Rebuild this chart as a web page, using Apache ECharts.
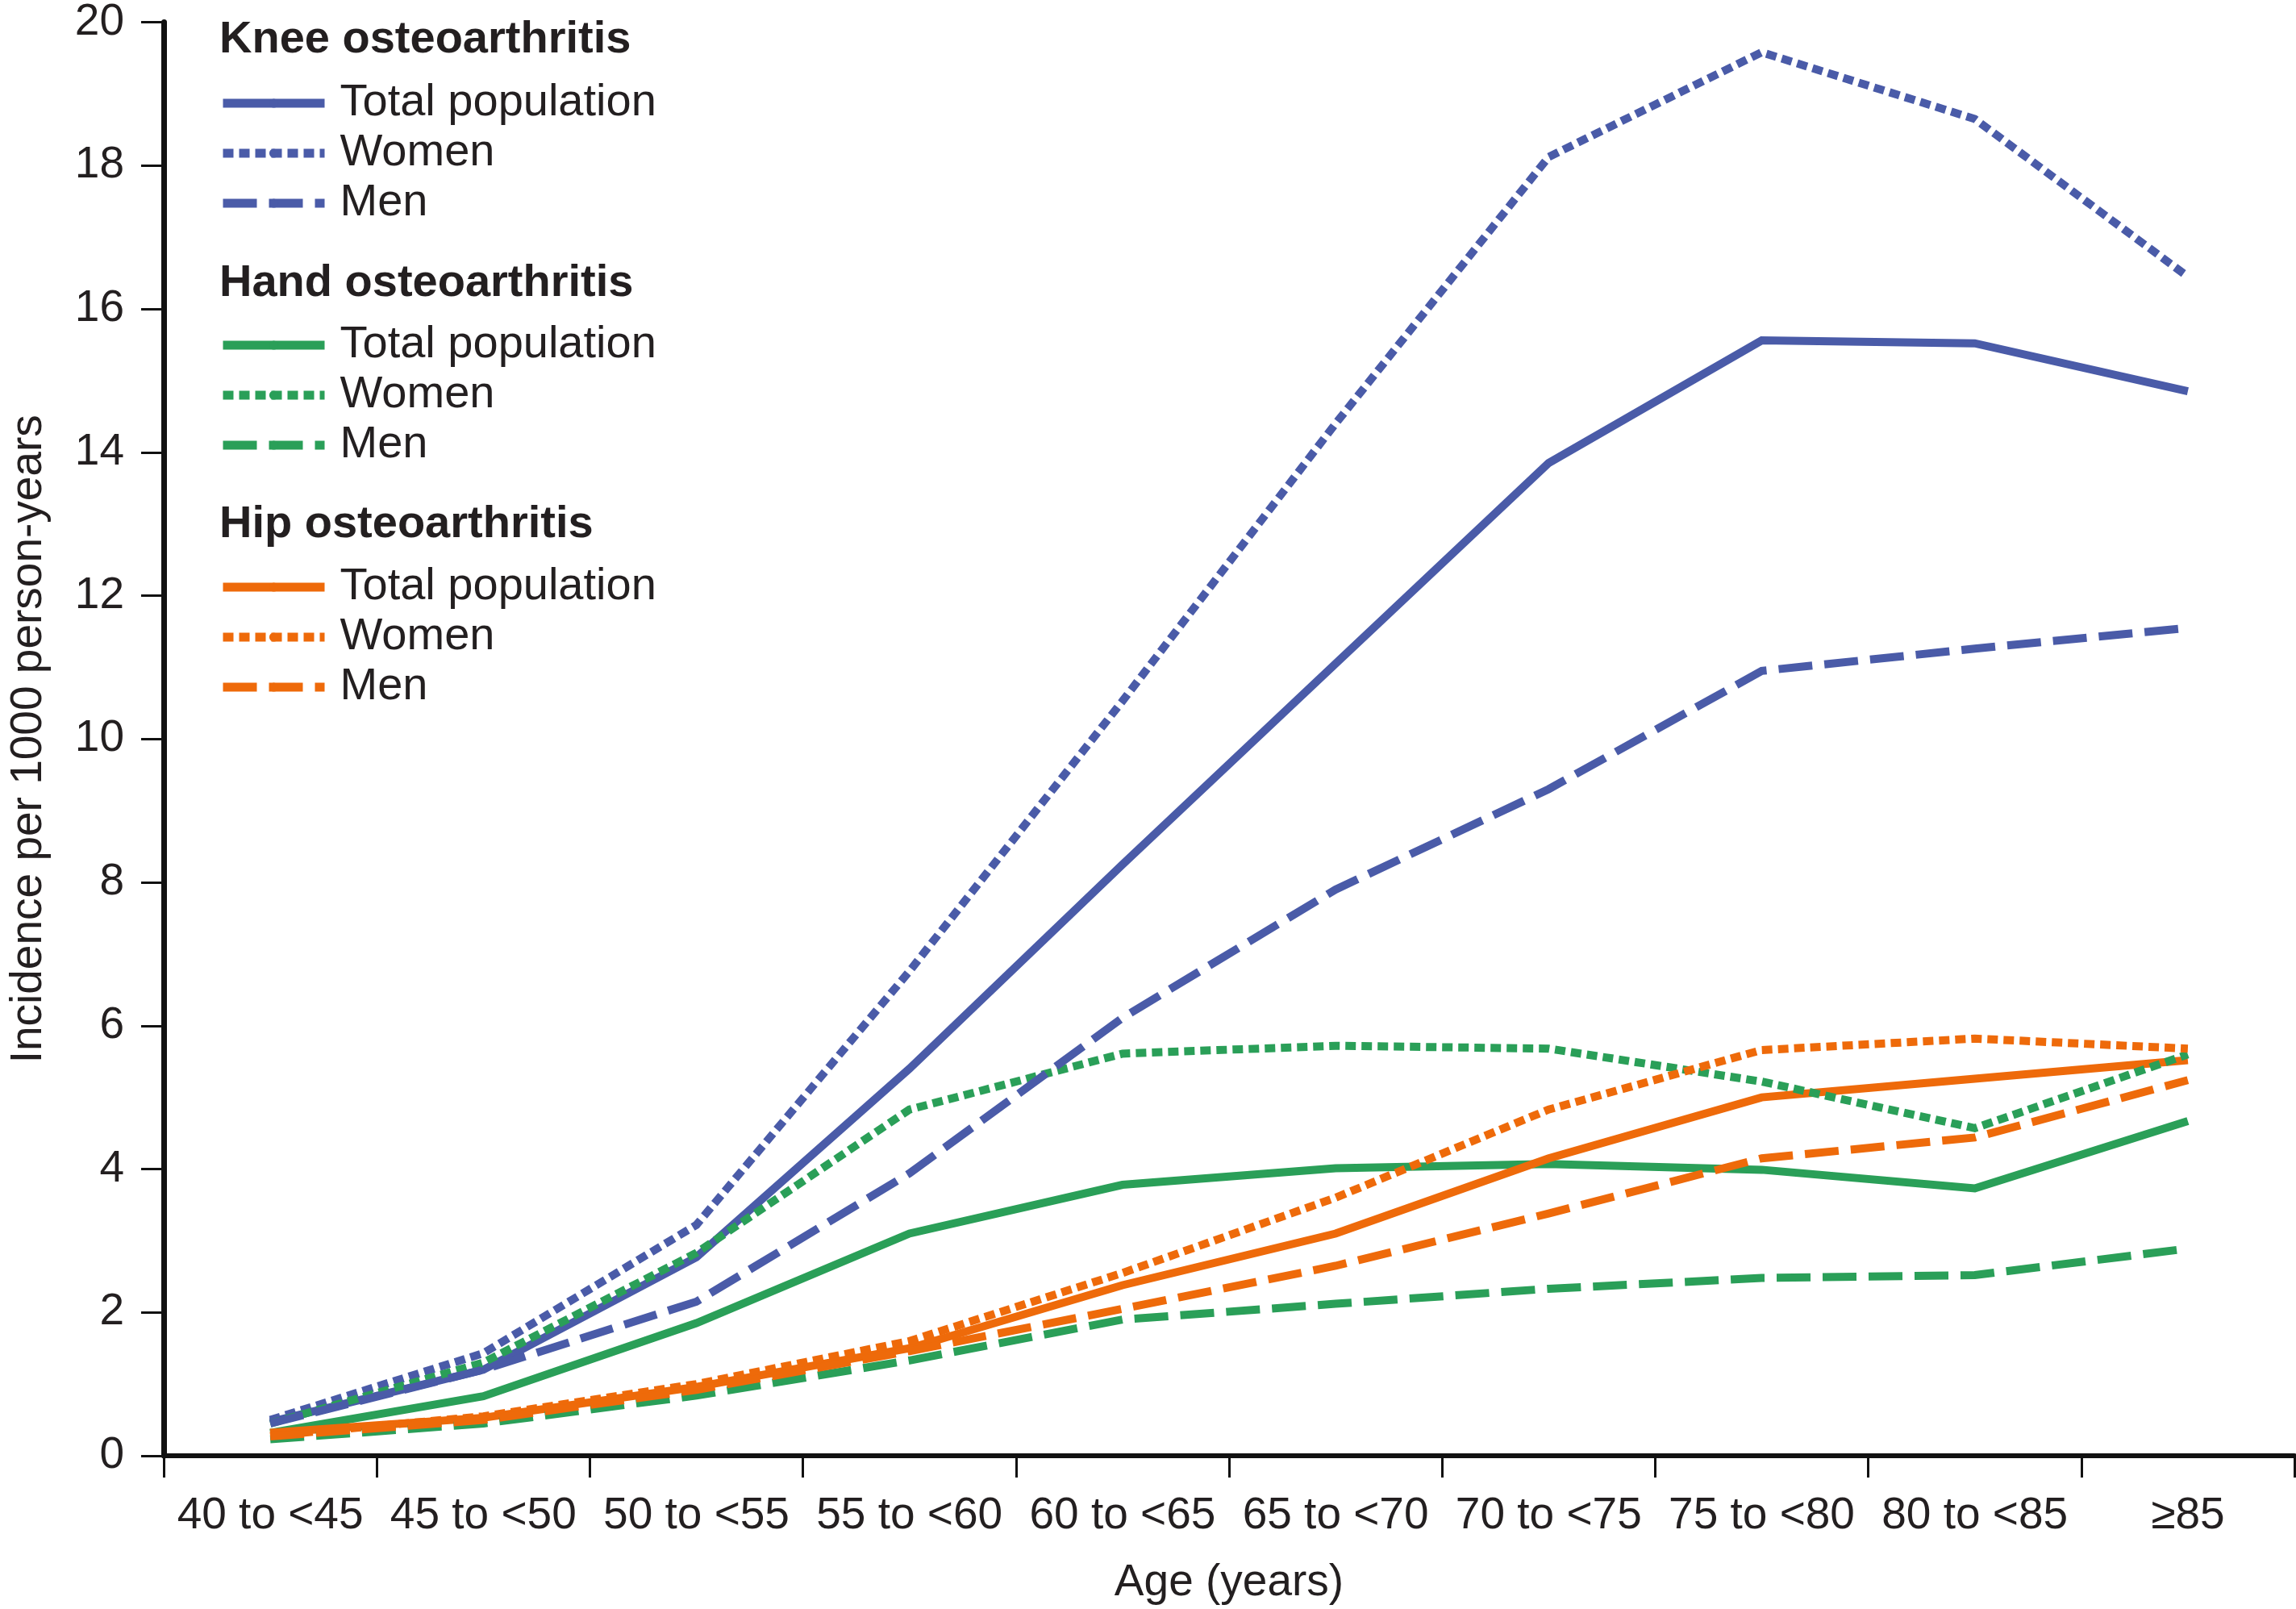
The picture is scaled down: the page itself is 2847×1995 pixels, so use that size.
<!DOCTYPE html>
<html>
<head>
<meta charset="utf-8">
<script src="https://cdn.jsdelivr.net/npm/echarts@6/dist/echarts.min.js"></script>
<style>
html,body{margin:0;padding:0;background:#fff;}
#chart{width:2847px;height:1995px;}
</style>
</head>
<body>
<div id="chart"></div>
<script>
// ---- data ----
var categories = ['40 to <45','45 to <50','50 to <55','55 to <60','60 to <65','65 to <70','70 to <75','75 to <80','80 to <85','\u226585'];
var yTicks = [0,2,4,6,8,10,12,14,16,18,20];

var kneeTotal = [0.47, 1.2, 2.77, 5.4, 8.25, 11.05, 13.85, 15.56, 15.52, 14.85];
var kneeWomen = [0.5, 1.43, 3.22, 6.76, 10.53, 14.4, 18.12, 19.58, 18.65, 16.45];
var kneeMen   = [0.45, 1.2, 2.15, 3.94, 6.11, 7.9, 9.3, 10.95, 11.26, 11.55];

var handTotal = [0.32, 0.83, 1.85, 3.1, 3.78, 4.01, 4.07, 3.99, 3.73, 4.67];
var handWomen = [0.45, 1.3, 2.83, 4.83, 5.61, 5.72, 5.68, 5.22, 4.57, 5.6];
var handMen   = [0.23, 0.45, 0.84, 1.33, 1.9, 2.12, 2.33, 2.48, 2.52, 2.89];

var hipTotal  = [0.32, 0.53, 0.96, 1.5, 2.38, 3.1, 4.15, 5.0, 5.26, 5.52];
var hipWomen  = [0.28, 0.55, 1.0, 1.6, 2.55, 3.6, 4.83, 5.66, 5.82, 5.68];
var hipMen    = [0.27, 0.5, 0.92, 1.46, 2.05, 2.65, 3.38, 4.15, 4.44, 5.24];

var groupTitles = ['Knee osteoarthritis','Hand osteoarthritis','Hip osteoarthritis'];
var itemLabels = ['Total population','Women','Men'];

// ---- styles ----
var FONT = 'Liberation Sans, Arial, Helvetica, sans-serif';
var TXT = '#231f20';
var BLUE = '#4a5ba8', GREEN = '#2a9f58', ORANGE = '#ee6a0a';
var SOLID = 'solid', DOT = [13, 7], DASH = [42, 15];
var LW = 10;

function mk(name, data, color, type) {
  return {
    name: name, type: 'line', data: data, symbol: 'none', showSymbol: false,
    lineStyle: { color: color, width: LW, type: type, cap: 'butt', join: 'miter' },
    itemStyle: { color: color },
    emphasis: { disabled: true },
    animation: false
  };
}

// draw order: totals, women, men
var series = [
  mk('Knee|Total population', kneeTotal, BLUE, SOLID),
  mk('Hand|Total population', handTotal, GREEN, SOLID),
  mk('Hip|Total population', hipTotal, ORANGE, SOLID),
  mk('Knee|Women', kneeWomen, BLUE, DOT),
  mk('Hand|Women', handWomen, GREEN, DOT),
  mk('Hip|Women', hipWomen, ORANGE, DOT),
  mk('Knee|Men', kneeMen, BLUE, DASH),
  mk('Hand|Men', handMen, GREEN, DASH),
  mk('Hip|Men', hipMen, ORANGE, DASH)
];

var prefixes = ['Knee','Hand','Hip'];
var titleTops = [22, 324, 623];
var legendTops = [97, 397, 697];

var titles = groupTitles.map(function (t, i) {
  return {
    text: t, left: 272, top: titleTops[i], padding: 0,
    textStyle: { fontFamily: FONT, fontSize: 56, fontWeight: 'bold', color: TXT }
  };
});

var legends = prefixes.map(function (p, i) {
  return {
    orient: 'vertical', left: 271, top: legendTops[i], padding: 0,
    itemWidth: 126, itemHeight: 14, itemGap: 0,
    selectedMode: false,
    data: itemLabels.map(function (l) { return p + '|' + l; }),
    formatter: function (n) { return n.split('|')[1]; },
    textStyle: { fontFamily: FONT, fontSize: 56, color: TXT, lineHeight: 62, padding: [0, 0, 0, 14] },
    lineStyle: { width: 11 }
  };
});

var chart = echarts.init(document.getElementById('chart'), null, { renderer: 'canvas' });
chart.setOption({
  backgroundColor: '#ffffff',
  animation: false,
  title: titles,
  legend: legends,
  grid: { left: 197, right: 2, top: 26, bottom: 185, containLabel: false },
  xAxis: {
    type: 'category', data: categories, boundaryGap: true,
    name: 'Age (years)', nameLocation: 'middle', nameGap: 130,
    nameTextStyle: { fontFamily: FONT, fontSize: 55, color: TXT },
    axisLine: { show: true, lineStyle: { color: '#111', width: 6 } },
    axisTick: { show: true, length: 27, inside: false, lineStyle: { color: '#111', width: 3 } },
    axisLabel: { fontFamily: FONT, fontSize: 55, color: TXT, margin: 47, interval: 0 },
    splitLine: { show: false }
  },
  yAxis: {
    type: 'value', min: yTicks[0], max: yTicks[yTicks.length - 1], interval: yTicks[1] - yTicks[0],
    name: 'Incidence per 1000 person-years', nameLocation: 'middle', nameGap: 140,
    nameTextStyle: { fontFamily: FONT, fontSize: 55, color: TXT },
    axisLine: { show: true, lineStyle: { color: '#111', width: 7 } },
    axisTick: { show: true, length: 28, inside: false, lineStyle: { color: '#111', width: 3 } },
    axisLabel: { fontFamily: FONT, fontSize: 55, color: TXT, margin: 49 },
    splitLine: { show: false }
  },
  series: series
});
</script>
</body>
</html>
